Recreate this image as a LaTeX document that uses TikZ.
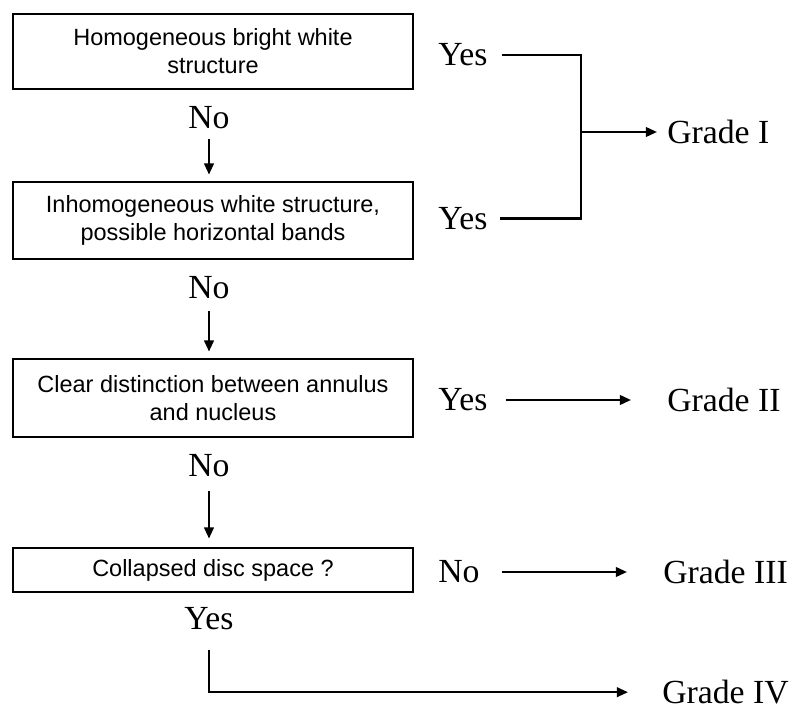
\documentclass[tikz,border=0pt]{standalone}
\usepackage{fontspec}
\setmainfont{Liberation Serif}
\setsansfont{Liberation Sans}
\usetikzlibrary{arrows.meta}

\begin{document}
\begin{tikzpicture}[
    box/.style={draw, line width=2pt, minimum width=10cm, align=center, inner sep=0pt,
      font=\sffamily\fontsize{16.7}{20}\selectfont},
    lbl/.style={inner sep=0pt, font=\fontsize{24}{28}\selectfont},
    line/.style={line width=1.6pt},
    arr/.style={line, -{Triangle[length=0.28cm, width=0.24cm]}}
  ]
    \useasboundingbox (0, 0) rectangle (19.85, 17.775);

    \node (b1) at (5.325, 16.4875) [box, minimum height=1.875cm] {Homogeneous bright white\\structure};
    \node (b2) at (5.325, 12.2625) [box, minimum height=1.925cm] {Inhomogeneous white structure,\\possible horizontal bands};
    \node (b3) at (5.325,  7.825)  [box, minimum height=1.95cm]  {Clear distinction between annulus\\and nucleus};
    \node (b4) at (5.325,  3.525)  [box, minimum height=1.1cm]   {Collapsed disc space ?};

    \node (no1)  at (5.225, 14.8375) [lbl] {No};
    \node (no2)  at (5.225, 10.575)  [lbl] {No};
    \node (no3)  at (5.225,  6.125)  [lbl] {No};
    \node (yes4) at (5.225,  2.3)    [lbl] {Yes};

    \draw [arr, shorten <=0.25cm, shorten >=0.15cm] (no1.south) -- (no1.south |- b2.north);
    \draw [arr, shorten <=0.3cm,  shorten >=0.15cm] (no2.south) -- (no2.south |- b3.north);
    \draw [arr, shorten <=0.35cm, shorten >=0.2cm]  (no3.south) -- (no3.south |- b4.north);

    \node (yes1) at (10.95, 16.4)   [lbl, anchor=west] {Yes};
    \node (yes2) at (10.95, 12.3125) [lbl, anchor=west] {Yes};
    \node (yes3) at (10.95,  7.775) [lbl, anchor=west] {Yes};
    \node (no4)  at (10.95,  3.475) [lbl, anchor=west] {No};

    \node (g1) at (16.675, 14.475) [lbl, anchor=west] {Grade I};
    \node (g2) at (16.675,  7.7875) [lbl, anchor=west] {Grade II};
    \node (g3) at (16.575,  3.475) [lbl, anchor=west] {Grade III};
    \node (g4) at (16.55,   0.47)  [lbl, anchor=west] {Grade IV};

    \coordinate (j) at (14.525, 14.475);

    \draw [line, shorten <=0.35cm, shorten >=0.3cm] (yes1.east) -- (yes1.east -| j) -- (yes2.east -| j) -- (yes2.east);
    \draw [arr, shorten >=0.25cm] (j) -- (g1.west);

    \draw [arr, shorten <=0.45cm, shorten >=0.9cm] (yes3.east) -- (yes3.east -| g2.west);
    \draw [arr, shorten <=0.55cm, shorten >=0.9cm] (no4.east) -- (no4.east -| g3.west);
    \draw [arr, shorten <=0.5cm, shorten >=0.85cm] (yes4.south) -- (yes4.south |- g4.west) -- (g4.west);
  \end{tikzpicture}
\end{document}
